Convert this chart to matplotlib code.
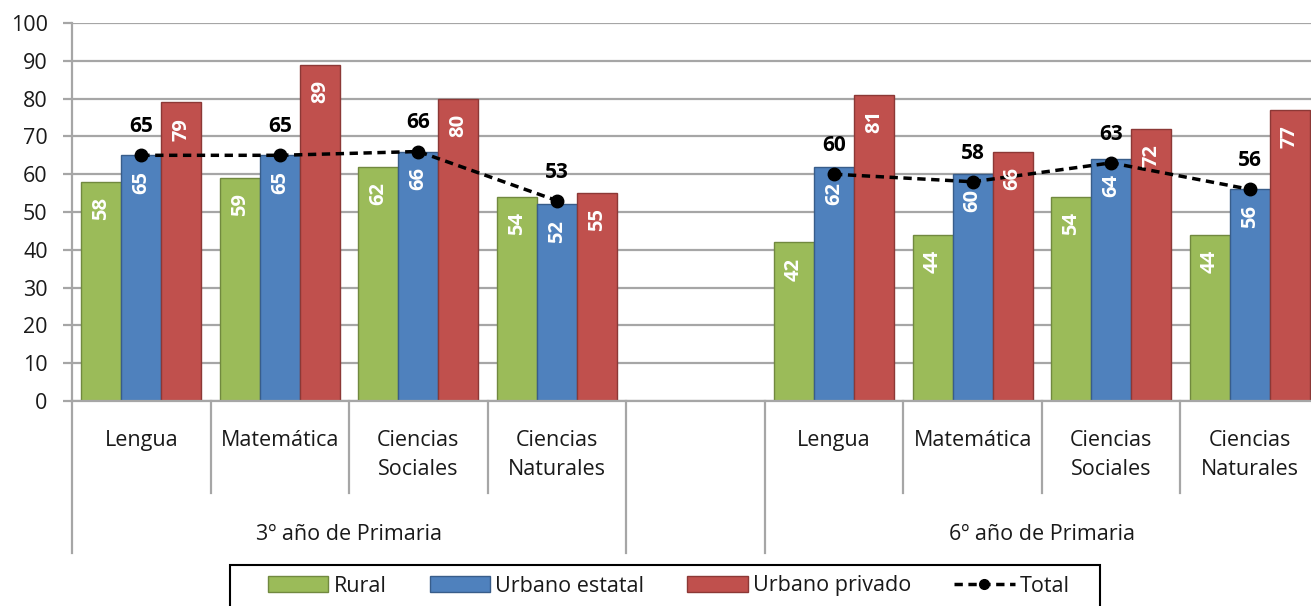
import numpy as np
import matplotlib
matplotlib.use("Agg")
import matplotlib.pyplot as plt
from matplotlib.patches import Patch, Rectangle
from matplotlib.lines import Line2D

plt.rcParams['font.family'] = ['Open Sans', 'DejaVu Sans']

subjects = ["Lengua", "Matemática", "Ciencias\nSociales", "Ciencias\nNaturales"]
grades = ["3º año de Primaria", "6º año de Primaria"]

rural_3 = [58, 59, 62, 54]
estatal_3 = [65, 65, 66, 52]
privado_3 = [79, 89, 80, 55]
total_3 = [65, 65, 66, 53]

rural_6 = [42, 44, 54, 44]
estatal_6 = [62, 60, 64, 56]
privado_6 = [81, 66, 72, 77]
total_6 = [60, 58, 63, 56]

c_rural, e_rural = "#9BBB59", "#71893F"
c_est, e_est = "#4F81BD", "#385D8A"
c_priv, e_priv = "#C0504D", "#8C3836"
grid_c = "#A6A6A6"
txt_c = "#1A1A1A"

W, H = 1311, 606
fig = plt.figure(figsize=(W / 100, H / 100), dpi=100)
# axes box in pixels: x 72..1319 (last slot runs past the edge), y 23..401
ax = fig.add_axes([72 / W, 1 - 401 / H, (1319 - 72) / W, (401 - 23) / H])

# slot positions: 4 subjects, one empty slot, 4 subjects
slots = np.array([0, 1, 2, 3, 5, 6, 7, 8]) + 0.5
rural = rural_3 + rural_6
estatal = estatal_3 + estatal_6
privado = privado_3 + privado_6
bw = 0.289

series = [(rural, -bw, c_rural, e_rural),
          (estatal, 0, c_est, e_est),
          (privado, bw, c_priv, e_priv)]
for vals, off, fc, ec in series:
    ax.bar(slots + off, vals, width=bw, color=fc, edgecolor=ec, linewidth=1, zorder=2)
    for x, v in zip(slots + off, vals):
        ax.annotate(str(v), (x, v), xytext=(0, -11), textcoords="offset points",
                    ha="center", va="top", rotation=90, color="white",
                    fontsize=14.5, fontweight="bold", zorder=8)

# total line, drawn per grade
for totals, xs in [(total_3, slots[:4]), (total_6, slots[4:])]:
    ax.plot(xs, totals, color="black", linestyle=(0, (2.4, 1.6)), linewidth=2.5,
            marker="o", markersize=9, zorder=5)
    for x, v in zip(xs, totals):
        ax.annotate(str(v), (x, v), xytext=(0, 13), textcoords="offset points",
                    ha="center", va="bottom", color="black",
                    fontsize=15, fontweight="bold", zorder=6)

ax.set_xlim(0, 9)
ax.set_ylim(0, 100)
ax.set_yticks(range(0, 101, 10))
ax.set_xticks([])
ax.yaxis.grid(True, color=grid_c, linewidth=1.6, zorder=0)
ax.set_axisbelow(True)
for s in ["top", "right"]:
    ax.spines[s].set_visible(False)
ax.spines["left"].set_color(grid_c)
ax.spines["left"].set_linewidth(1.6)
ax.spines["bottom"].set_color(grid_c)
ax.spines["bottom"].set_linewidth(1.6)
ax.tick_params(axis="y", length=6.5, width=1.6, color=grid_c, pad=11,
               labelsize=15.5, labelcolor=txt_c)

# category axis below the plot
ax_h = 401 - 23
def ypix(p):
    return (401 - p) / ax_h

tr = ax.get_xaxis_transform()
for xb in [0, 5, 4]:
    ax.plot([xb, xb], [0, ypix(553)], transform=tr, color=grid_c, lw=1.6, clip_on=False)
for xb in [1, 2, 3, 6, 7, 8]:
    ax.plot([xb, xb], [0, ypix(493)], transform=tr, color=grid_c, lw=1.6, clip_on=False)

for x, lab in zip(slots, subjects + subjects):
    ax.text(x, ypix(430), lab, transform=tr, ha="center", va="top",
            fontsize=15.5, color=txt_c, linespacing=1.5)
for x, lab in zip([2, 7], grades):
    ax.text(x, ypix(535), lab, transform=tr, ha="center", va="center",
            fontsize=15.5, color=txt_c)

# legend: frame drawn separately so the padding can be wider than tall
fig.patches.append(Rectangle((230 / W, 1 - 615 / H), 870 / W, 50 / H,
                             transform=fig.transFigure, facecolor="white",
                             edgecolor="black", linewidth=1.5))
handles = [
    Patch(facecolor=c_rural, edgecolor=e_rural, label="Rural"),
    Patch(facecolor=c_est, edgecolor=e_est, label="Urbano estatal"),
    Patch(facecolor=c_priv, edgecolor=e_priv, label="Urbano privado"),
    Line2D([], [], color="black", linestyle=(0, (2.4, 1.6)), linewidth=2.5,
           marker="o", markersize=7, label="Total"),
]
leg = fig.legend(handles=handles, loc="center left", ncol=4,
                 bbox_to_anchor=(268 / W, 1 - 586 / H), borderaxespad=0,
                 fontsize=15.5, frameon=False, handlelength=2.8,
                 handletextpad=0.25, columnspacing=2.0, borderpad=0)
for t in leg.get_texts():
    t.set_color(txt_c)

fig.savefig("out.png", dpi=100)
